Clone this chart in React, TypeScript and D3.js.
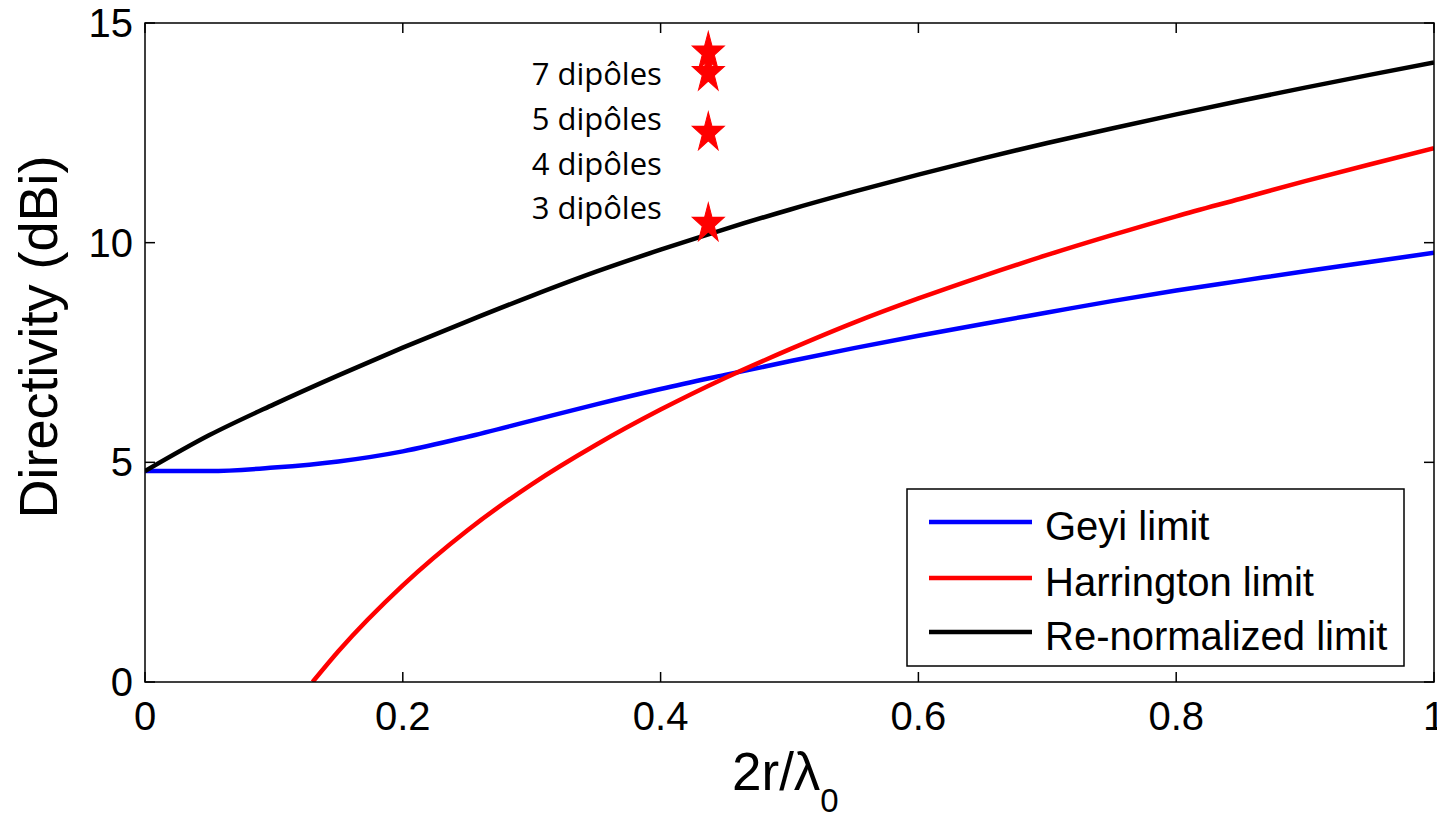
import React from "react";
import * as d3 from "d3";

const xGrid = [0, 0.05, 0.1, 0.15, 0.2, 0.25, 0.3, 0.35, 0.4, 0.45, 0.5, 0.55, 0.6, 0.65, 0.7, 0.75, 0.8, 0.85, 0.9, 0.95, 1.0];
const geyiValues = [4.8, 4.8, 4.88, 5.02, 5.25, 5.58, 5.95, 6.32, 6.67, 6.99, 7.3, 7.6, 7.88, 8.15, 8.41, 8.67, 8.91, 9.13, 9.35, 9.56, 9.77];
const renormValues = [4.8, 5.62, 6.32, 6.98, 7.61, 8.21, 8.79, 9.34, 9.84, 10.31, 10.75, 11.16, 11.55, 11.92, 12.27, 12.6, 12.92, 13.23, 13.53, 13.82, 14.1];
const harringtonX = [0.13, 0.15, 0.2, 0.25, 0.3, 0.35, 0.4, 0.45, 0.5, 0.55, 0.6, 0.65, 0.7, 0.75, 0.8, 0.85, 0.9, 0.95, 1.0];
const harringtonValues = [0.0, 0.7, 2.2, 3.45, 4.5, 5.4, 6.2, 6.92, 7.57, 8.18, 8.73, 9.24, 9.72, 10.17, 10.6, 11.0, 11.4, 11.78, 12.15];

const starX = [0.437, 0.437, 0.437, 0.437];
const starY = [14.33, 13.86, 12.5, 10.43];

const annotationText = ["7 dipôles", "5 dipôles", "4 dipôles", "3 dipôles"];
const annotationX = 0.3;
const annotationY = [13.6, 12.57, 11.55, 10.55];

const xTicks = [0, 0.2, 0.4, 0.6, 0.8, 1];
const xTickLabels = ["0", "0.2", "0.4", "0.6", "0.8", "1"];
const yTicks = [0, 5, 10, 15];
const yTickLabels = ["0", "5", "10", "15"];

const legendNames = ["Geyi limit", "Harrington limit", "Re-normalized limit"];
const legendColors = ["#0000ff", "#ff0000", "#000000"];

const W = 1437;
const H = 815;
const left = 145;
const right = 1434;
const top = 23;
const bottom = 682;

const font = "'Liberation Sans', Arial, sans-serif";

export default function App() {
  const x = d3.scaleLinear().domain([0, 1]).range([left, right]);
  const y = d3.scaleLinear().domain([0, 15]).range([bottom, top]);
  const line = d3
    .line<[number, number]>()
    .x((d) => x(d[0]))
    .y((d) => y(d[1]))
    .curve(d3.curveMonotoneX);

  const geyi = xGrid.map((v, i) => [v, geyiValues[i]] as [number, number]);
  const renorm = xGrid.map((v, i) => [v, renormValues[i]] as [number, number]);
  const harr = harringtonX.map((v, i) => [v, harringtonValues[i]] as [number, number]);
  const series = [geyi, harr, renorm];

  const starPath = d3.symbol().type(d3.symbolStar).size(310)() as string;
  const tickLen = 10;

  const legX = 907;
  const legY = 489;
  const legW = 497;
  const legH = 177;
  const legRows = [522, 578, 632];

  return (
    <svg
      width={W}
      height={H}
      style={{ position: "absolute", left: 0, top: 0, background: "#fff" }}
    >
      <rect x={0} y={0} width={W} height={H} fill="#fff" />
      <defs>
        <clipPath id="plotclip">
          <rect x={left} y={top} width={right - left} height={bottom - top} />
        </clipPath>
      </defs>

      {/* curves */}
      <g clipPath="url(#plotclip)">
        {series.map((s, i) => (
          <path
            key={i}
            d={line(s) as string}
            fill="none"
            stroke={legendColors[i]}
            strokeWidth={4.5}
            strokeLinejoin="round"
          />
        ))}
      </g>

      {/* stars */}
      {starX.map((sx, i) => (
        <path
          key={i}
          d={starPath}
          transform={`translate(${x(sx)},${y(starY[i])}) scale(1,1.25)`}
          fill="#ff0000"
          stroke="#ff0000"
          strokeWidth={1}
        />
      ))}

      {/* annotations */}
      {annotationText.map((t, i) => (
        <text
          key={i}
          x={x(annotationX)}
          y={y(annotationY[i])}
          fontFamily="'Open Sans', sans-serif"
          fontSize={31}
          fill="#000"
        >
          {t}
        </text>
      ))}

      {/* axes box */}
      <rect
        x={left}
        y={top}
        width={right - left}
        height={bottom - top}
        fill="none"
        stroke="#000"
        strokeWidth={1.5}
      />

      {/* x ticks */}
      {xTicks.map((t, i) => (
        <g key={i}>
          <line x1={x(t)} x2={x(t)} y1={bottom} y2={bottom - tickLen} stroke="#000" strokeWidth={1.5} />
          <line x1={x(t)} x2={x(t)} y1={top} y2={top + tickLen} stroke="#000" strokeWidth={1.5} />
          <text
            x={x(t)}
            y={730}
            textAnchor="middle"
            fontFamily={font}
            fontSize={40}
            fill="#000"
          >
            {xTickLabels[i]}
          </text>
        </g>
      ))}

      {/* y ticks */}
      {yTicks.map((t, i) => (
        <g key={i}>
          <line x1={left} x2={left + tickLen} y1={y(t)} y2={y(t)} stroke="#000" strokeWidth={1.5} />
          <line x1={right} x2={right - tickLen} y1={y(t)} y2={y(t)} stroke="#000" strokeWidth={1.5} />
          <text
            x={133}
            y={y(t) + 14}
            textAnchor="end"
            fontFamily={font}
            fontSize={40}
            fill="#000"
          >
            {yTickLabels[i]}
          </text>
        </g>
      ))}

      {/* axis labels */}
      <text x={732} y={790} fontFamily={font} fontSize={53} fill="#000">
        2r/λ
        <tspan fontSize={33} dy={22}>0</tspan>
      </text>
      <text
        transform={`translate(57,337) rotate(-90)`}
        textAnchor="middle"
        fontFamily={font}
        fontSize={54}
        fill="#000"
      >
        Directivity (dBi)
      </text>

      {/* legend */}
      <rect x={legX} y={legY} width={legW} height={legH} fill="#fff" stroke="#000" strokeWidth={1.5} />
      {legendNames.map((n, i) => (
        <g key={i}>
          <line
            x1={929}
            x2={1032}
            y1={legRows[i]}
            y2={legRows[i]}
            stroke={legendColors[i]}
            strokeWidth={4.5}
          />
          <text
            x={1045}
            y={legRows[i] + 18}
            fontFamily={font}
            fontSize={40}
            fill="#000"
          >
            {n}
          </text>
        </g>
      ))}
    </svg>
  );
}
